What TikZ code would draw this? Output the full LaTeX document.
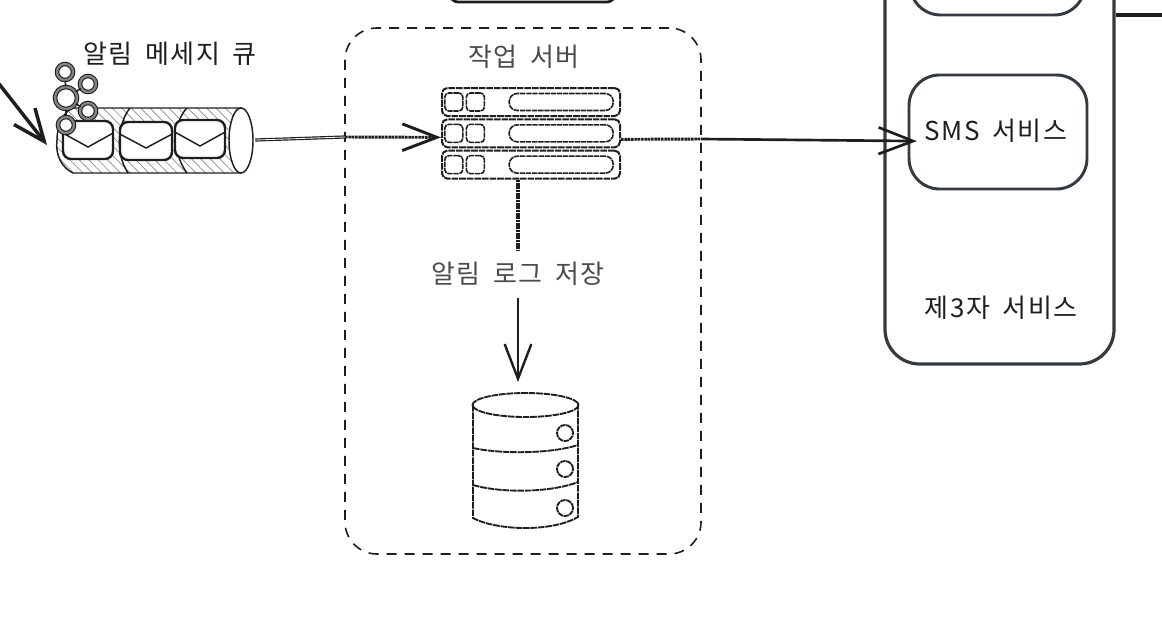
\documentclass[tikz,border=0pt]{standalone}
\usepackage{fontspec}
\setmainfont{Noto Sans CJK KR}[LetterSpace=6,WordSpace=1.7]
\usepackage{xcolor}
\usetikzlibrary{arrows.meta,positioning,calc,shapes.geometric,patterns.meta}
\definecolor{skdark}{HTML}{1E1E1E}
\definecolor{skbox}{HTML}{343A40}
\definecolor{skhatch}{HTML}{8A8A8A}
\newcommand{\px}{0.75pt}

\begin{document}
\begin{tikzpicture}[
  x=0.75pt, y=-0.75pt,
  lbl/.style={font=\fontsize{19.5}{22}\selectfont, text=skdark, inner sep=0pt},
  lblsoft/.style={lbl, text=skdark!80},
  outerbox/.style={rectangle, draw=skbox, line width=2.4pt, rounded corners=26pt, inner sep=0pt},
  innerbox/.style={rectangle, draw=skbox, line width=2.2pt, rounded corners=23pt, inner sep=0pt},
  groupbox/.style={rectangle, draw=skdark, line width=1.2pt, dash pattern=on 7.5pt off 6pt, rounded corners=24pt, inner sep=0pt},
  rack/.style={rectangle, rounded corners=4pt, draw=skdark, line width=1.5pt, dash pattern=on 5pt off .7pt,
               minimum width=178*\px, minimum height=28*\px, inner sep=0pt},
  port/.style={rectangle, rounded corners=3pt, draw=skdark, line width=1.2pt, dash pattern=on 4pt off .6pt,
               minimum width=18*\px, minimum height=18*\px, inner sep=0pt},
  slot/.style={rectangle, rounded corners=6pt, draw=skdark, line width=1.2pt, dash pattern=on 4pt off .6pt,
               minimum width=104*\px, minimum height=17*\px, inner sep=0pt},
  mail/.style={rectangle, rounded corners=6pt, draw=skdark, line width=1.8pt, fill=white,
               minimum width=50*\px, minimum height=38*\px, inner sep=0pt},
  kafka/.style={circle, draw=skdark, line width=.8pt, double=skdark!55, double distance=1.8pt, fill=white,
                minimum size=16*\px, inner sep=0pt},
  anchorbox/.style={rectangle, inner sep=0pt},
  arr/.style={-{Straight Barb[length=26pt,width=20pt]}, draw=skdark, line width=1.8pt},
  hatchline/.style={draw=skdark, line width=2.2pt, dash pattern=on 2pt off .5pt},
  thin sketch/.style={draw=skdark, line width=1.1pt},
  dbline/.style={thin sketch, line width=1.4pt, dash pattern=on 5pt off .6pt}
]
\useasboundingbox (0,0) rectangle (1162,618);
\clip (0,0) rectangle (1162,618);

% third party services
\node[outerbox, minimum width=229*\px, minimum height=500*\px] (vendor) at (999.5,114) {};
\node[innerbox, minimum width=175*\px, minimum height=100*\px] (push) at (997.5,-35) {};
\node[innerbox, minimum width=178*\px, minimum height=114*\px] (sms) at (998,132) {};
\node[lbl] (smslbl) at (996,131) {SMS 서비스};
\node[lbl] (vendorlbl) at (1001,308) {제3자 서비스};
\coordinate (out) at (1170,15);
\draw[draw=skdark, line width=2.6pt] (vendor.east |- out) -- (out);

% box cut off at the top
\node[rectangle, draw=skdark, line width=2pt, rounded corners=6pt, minimum width=165*\px, minimum height=60*\px] (topbox) at (532.5,-28) {};

% worker
\node[groupbox, minimum width=356*\px, minimum height=526*\px] (worker) at (523,291) {};
\node[lblsoft] (workerlbl) at (524,57) {작업 서버};
\coordinate (workerin) at (345,137);
\coordinate (workerout) at (701,139);

\node[rack] (s1) at (531,102) {};
\node[rack, below=1pt of s1] (s2) {};
\node[rack, below=1pt of s2] (s3) {};
\foreach \s in {s1,s2,s3} {
  \node[port, right=3*\px of \s.west] (\s a) {};
  \node[port, right=2*\px of \s a] (\s b) {};
  \node[slot, left=7*\px of \s.east] (\s c) {};
}

% queue
\node[anchorbox, minimum width=197*\px, minimum height=65*\px] (mq) at (156.5,140) {};
\draw[thin sketch, pattern={Lines[angle=135,distance=5pt,line width=.5pt]}, pattern color=skhatch]
  (73,108) -- (241,108) -- (241,173) -- (73,173) .. controls (62,168) and (55,155) .. (57,140) .. controls (57,125) and (63,112) .. (73,108) -- cycle;
\node[ellipse, thin sketch, fill=white, minimum width=24*\px, minimum height=65*\px, inner sep=0pt] (mqend) at (241,140.5) {};
\draw[thin sketch] (130,108) .. controls (120,120) and (113,150) .. (128,173);
\draw[thin sketch] (187,108) .. controls (175,120) and (170,150) .. (187,173);
\node[mail] (m1) at (88,140) {};
\node[mail, minimum width=52*\px] (m2) at (146,141) {};
\node[mail] (m3) at (200,139) {};
\foreach \m in {m1,m2,m3}
  \draw[draw=skdark, line width=1.1pt] ($(\m.west)+(1,-7)$) -- ($(\m.center)+(0,7)$) -- ($(\m.east)+(-1,-7)$);
\node[lbl] (mqlbl) at (170,54) {알림 메세지 큐};

% kafka mark
\node[kafka] (k1) at (65,72) {};
\node[kafka] (k2) at (88,84) {};
\node[kafka, minimum size=22*\px] (k3) at (66,98) {};
\node[kafka] (k4) at (88,111) {};
\node[kafka] (k5) at (66,125) {};
\foreach \a in {k1,k2,k4,k5} \draw[draw=skdark, line width=1.2pt] (k3) -- (\a);

% log db
\node[anchorbox, minimum width=105*\px, minimum height=136*\px] (db) at (525.5,461) {};
\draw[dbline] (473,405) -- (473,518) .. controls (495,530) and (550,533) .. (578,517) -- (578,403);
\draw[dbline] (525.5,405) ellipse [x radius=53, y radius=12];
\foreach \y/\d in {448/6, 485/8}
  \draw[dbline] (473,\y) .. controls (500,\y+\d) and (550,\y+\d) .. (578,\y-3);
\foreach \n/\y in {d1/433, d2/469, d3/508}
  \node[circle, dbline, dash pattern=on 4pt off .5pt, minimum size=16*\px, inner sep=0pt] (\n) at (565,\y) {};

\node[lblsoft, outer sep=9pt] (loglbl) at (518,274) {알림 로그 저장};

% connectors
\coordinate (from) at (-4,80);
\coordinate (mqin) at (47,145);
\draw[arr, line width=2.6pt, {-Straight Barb[length=24pt,width=20pt]}] (from) -- (mqin);
\draw[draw=skdark, line width=.9pt, double=white, double distance=.6pt] (mq.east) -- (workerin);
\draw[arr, dash pattern=on 2pt off .5pt, line width=2.2pt] (workerin) -- ($(s2.west)+(0,4)$);
\draw[hatchline] ($(s2.east)+(0,6)$) -- (workerout);
\draw[arr, line width=2pt, shorten >=-7pt] (workerout) -- ($(sms.west)+(0,9)$);
\draw[hatchline, line width=3pt] (s3.south -| loglbl) -- (loglbl);
\draw[arr, shorten >=8pt] (loglbl) -- (loglbl |- db.north);
\end{tikzpicture}
\end{document}
